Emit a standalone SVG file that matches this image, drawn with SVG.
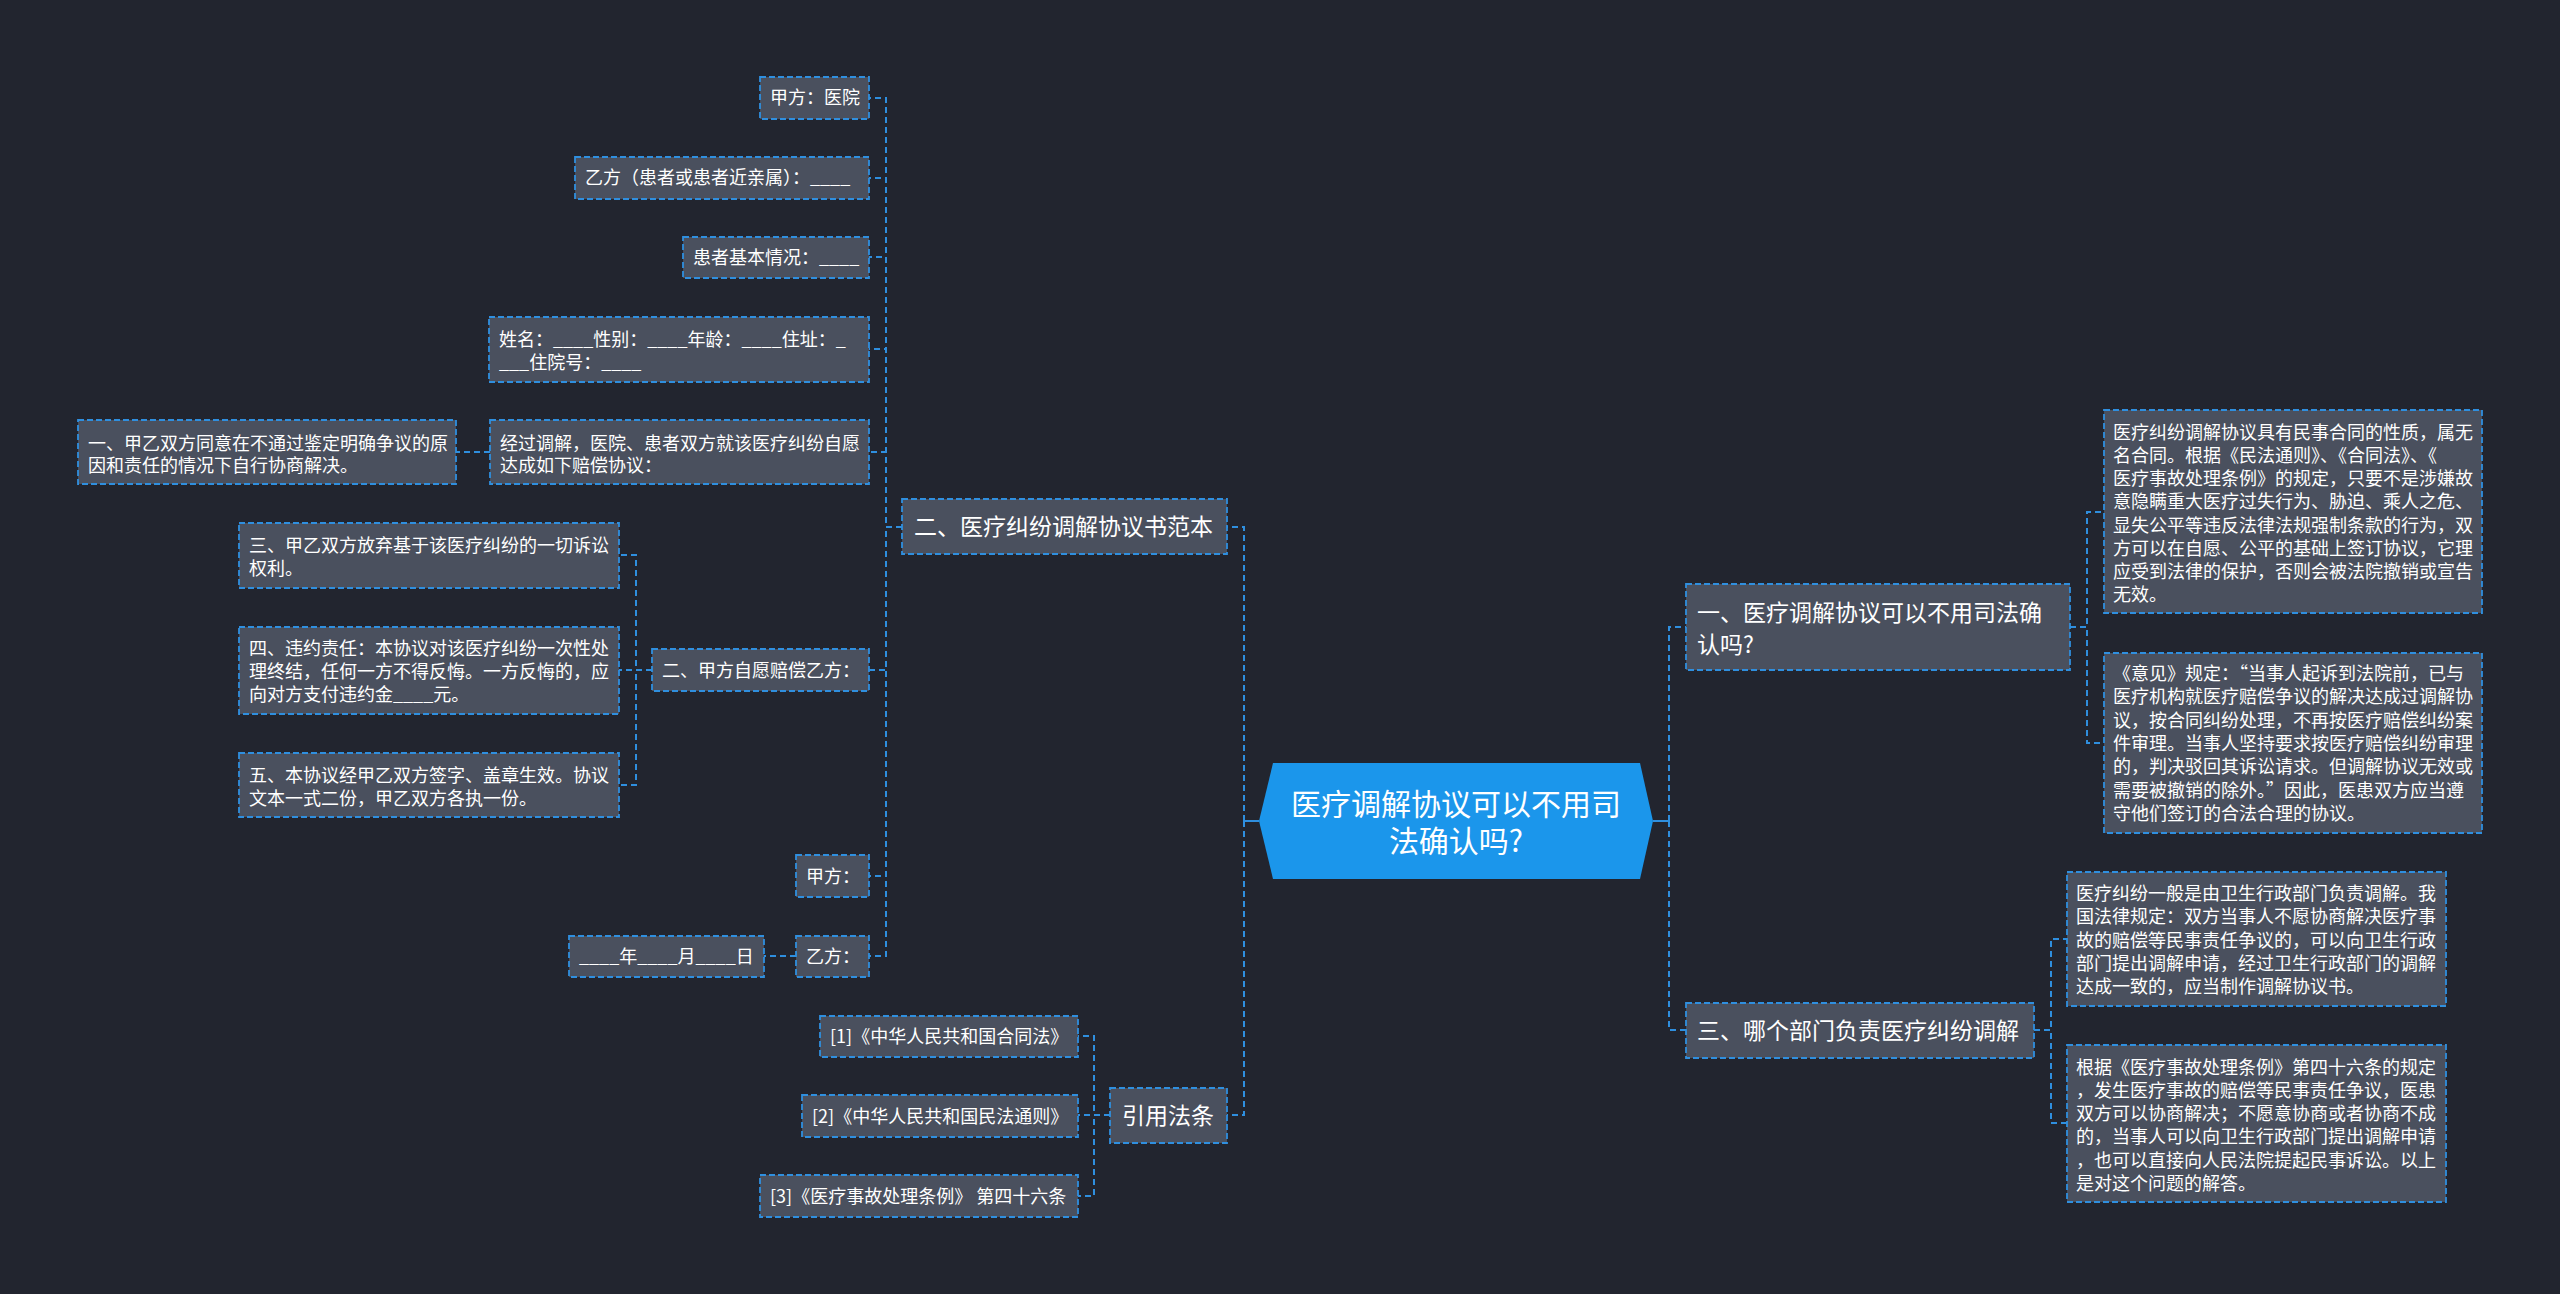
<svg xmlns="http://www.w3.org/2000/svg" width="2560" height="1294" viewBox="0 0 2560 1294">
<style>
.bg{fill:#22252f}
.box{fill:#4a505e;stroke:#2f8fdf;stroke-width:1.8;stroke-dasharray:6 3}
.t{font-family:"Noto Sans CJK SC","Noto Sans",sans-serif;fill:#ffffff;font-size:18px}
.t1{font-family:"Noto Sans CJK SC","Noto Sans",sans-serif;fill:#ffffff;font-size:23px}
.tc{font-family:"Noto Sans CJK SC","Noto Sans",sans-serif;fill:#ffffff;font-size:30px;text-anchor:middle}
.c{fill:none;stroke:#2f8fdf;stroke-width:2;stroke-dasharray:6 4}
.cs{fill:none;stroke:#2f8fdf;stroke-width:2}
</style>
<rect class="bg" x="0" y="0" width="2560" height="1294"/>
<g id="connectors">
<path class="cs" d="M1259 821H1244M1653 821H1669"/>
<path class="c" d="M1244 821V527H1227"/>
<path class="c" d="M1244 821V1115H1227"/>
<path class="c" d="M1669 821V627H1686"/>
<path class="c" d="M1669 821V1030H1686"/>
<path class="c" d="M902 527H886V98H869"/>
<path class="c" d="M902 527H886V178H869"/>
<path class="c" d="M902 527H886V257H869"/>
<path class="c" d="M902 527H886V349H869"/>
<path class="c" d="M902 527H886V452H869"/>
<path class="c" d="M902 527H886V670H869"/>
<path class="c" d="M902 527H886V876H869"/>
<path class="c" d="M902 527H886V956H869"/>
<path class="c" d="M490 452H456"/>
<path class="c" d="M652 670H636V555H619"/>
<path class="c" d="M652 670H619"/>
<path class="c" d="M652 670H636V785H619"/>
<path class="c" d="M796 956H764"/>
<path class="c" d="M1110 1115H1094V1036H1078"/>
<path class="c" d="M1110 1115H1078"/>
<path class="c" d="M1110 1115H1094V1196H1078"/>
<path class="c" d="M2070 627H2087V512H2104"/>
<path class="c" d="M2070 627H2087V743H2104"/>
<path class="c" d="M2034 1030H2051V939H2067"/>
<path class="c" d="M2034 1030H2051V1123H2067"/>
</g>
<g id="center">
<polygon points="1259,821 1273,763 1640,763 1653,821 1640,879 1273,879" fill="#1b96eb"/>
<text class="tc" x="1456" y="815">医疗调解协议可以不用司</text>
<text class="tc" x="1456" y="852">法确认吗?</text>
</g>
<g id="n-fanben">
<rect class="box" x="902" y="499" width="325" height="55"/>
<text class="t1" x="914" y="535">二、医疗纠纷调解协议书范本</text>
</g>
<g id="n-yinyong">
<rect class="box" x="1110" y="1088" width="117" height="55"/>
<text class="t1" x="1122" y="1124">引用法条</text>
</g>
<g id="n-q1">
<rect class="box" x="1686" y="584" width="384" height="86"/>
<text class="t1" x="1697" y="621">一、医疗调解协议可以不用司法确</text>
<text class="t1" x="1697" y="653">认吗?</text>
</g>
<g id="n-q3">
<rect class="box" x="1686" y="1003" width="348" height="55"/>
<text class="t1" x="1697" y="1039">三、哪个部门负责医疗纠纷调解</text>
</g>
<g id="n-jiafang">
<rect class="box" x="760" y="77" width="109" height="42"/>
<text class="t" x="770" y="104">甲方：医院</text>
</g>
<g id="n-yifang">
<rect class="box" x="575" y="157" width="294" height="42"/>
<text class="t" x="585" y="184">乙方（患者或患者近亲属）：____</text>
</g>
<g id="n-huanzhe">
<rect class="box" x="683" y="237" width="186" height="41"/>
<text class="t" x="693" y="264">患者基本情况：____</text>
</g>
<g id="n-xingming">
<rect class="box" x="489" y="317" width="380" height="65"/>
<text class="t" x="499" y="346">姓名：____性别：____年龄：____住址：_</text>
<text class="t" x="499" y="369">___住院号：____</text>
</g>
<g id="n-jingguo">
<rect class="box" x="490" y="420" width="379" height="64"/>
<text class="t" x="500" y="450">经过调解，医院、患者双方就该医疗纠纷自愿</text>
<text class="t" x="500" y="472">达成如下赔偿协议：</text>
</g>
<g id="n-yi">
<rect class="box" x="78" y="420" width="378" height="64"/>
<text class="t" x="88" y="450">一、甲乙双方同意在不通过鉴定明确争议的原</text>
<text class="t" x="88" y="472">因和责任的情况下自行协商解决。</text>
</g>
<g id="n-er">
<rect class="box" x="652" y="649" width="217" height="42"/>
<text class="t" x="662" y="677">二、甲方自愿赔偿乙方：</text>
</g>
<g id="n-san">
<rect class="box" x="239" y="523" width="380" height="65"/>
<text class="t" x="249" y="552">三、甲乙双方放弃基于该医疗纠纷的一切诉讼</text>
<text class="t" x="249" y="575">权利。</text>
</g>
<g id="n-si">
<rect class="box" x="239" y="627" width="380" height="87"/>
<text class="t" x="249" y="655">四、违约责任：本协议对该医疗纠纷一次性处</text>
<text class="t" x="249" y="678">理终结，任何一方不得反悔。一方反悔的，应</text>
<text class="t" x="249" y="701">向对方支付违约金____元。</text>
</g>
<g id="n-wu">
<rect class="box" x="239" y="753" width="380" height="64"/>
<text class="t" x="249" y="782">五、本协议经甲乙双方签字、盖章生效。协议</text>
<text class="t" x="249" y="805">文本一式二份，甲乙双方各执一份。</text>
</g>
<g id="n-jiafang2">
<rect class="box" x="796" y="855" width="73" height="42"/>
<text class="t" x="806" y="883">甲方：</text>
</g>
<g id="n-yifang2">
<rect class="box" x="796" y="936" width="73" height="41"/>
<text class="t" x="806" y="963">乙方：</text>
</g>
<g id="n-date">
<rect class="box" x="569" y="936" width="195" height="41"/>
<text class="t" x="579" y="963">____年____月____日</text>
</g>
<g id="n-ref1">
<rect class="box" x="820" y="1016" width="258" height="41"/>
<text class="t" x="830" y="1043">[1]《中华人民共和国合同法》</text>
</g>
<g id="n-ref2">
<rect class="box" x="802" y="1095" width="276" height="42"/>
<text class="t" x="812" y="1123">[2]《中华人民共和国民法通则》</text>
</g>
<g id="n-ref3">
<rect class="box" x="760" y="1175" width="318" height="42"/>
<text class="t" x="770" y="1203">[3]《医疗事故处理条例》 第四十六条</text>
</g>
<g id="n-a">
<rect class="box" x="2104" y="410" width="378" height="203"/>
<text class="t" x="2113" y="439">医疗纠纷调解协议具有民事合同的性质，属无</text>
<text class="t" x="2113" y="462">名合同。根据《民法通则》、《合同法》、《</text>
<text class="t" x="2113" y="485">医疗事故处理条例》的规定，只要不是涉嫌故</text>
<text class="t" x="2113" y="508">意隐瞒重大医疗过失行为、胁迫、乘人之危、</text>
<text class="t" x="2113" y="532">显失公平等违反法律法规强制条款的行为，双</text>
<text class="t" x="2113" y="555">方可以在自愿、公平的基础上签订协议，它理</text>
<text class="t" x="2113" y="578">应受到法律的保护，否则会被法院撤销或宣告</text>
<text class="t" x="2113" y="601">无效。</text>
</g>
<g id="n-b">
<rect class="box" x="2104" y="653" width="378" height="180"/>
<text class="t" x="2113" y="680">《意见》规定：“当事人起诉到法院前，已与</text>
<text class="t" x="2113" y="703">医疗机构就医疗赔偿争议的解决达成过调解协</text>
<text class="t" x="2113" y="727">议，按合同纠纷处理，不再按医疗赔偿纠纷案</text>
<text class="t" x="2113" y="750">件审理。当事人坚持要求按医疗赔偿纠纷审理</text>
<text class="t" x="2113" y="773">的，判决驳回其诉讼请求。但调解协议无效或</text>
<text class="t" x="2113" y="797">需要被撤销的除外。”因此，医患双方应当遵</text>
<text class="t" x="2113" y="820">守他们签订的合法合理的协议。</text>
</g>
<g id="n-c">
<rect class="box" x="2067" y="872" width="379" height="134"/>
<text class="t" x="2076" y="900">医疗纠纷一般是由卫生行政部门负责调解。我</text>
<text class="t" x="2076" y="923">国法律规定：双方当事人不愿协商解决医疗事</text>
<text class="t" x="2076" y="947">故的赔偿等民事责任争议的，可以向卫生行政</text>
<text class="t" x="2076" y="970">部门提出调解申请，经过卫生行政部门的调解</text>
<text class="t" x="2076" y="993">达成一致的，应当制作调解协议书。</text>
</g>
<g id="n-d">
<rect class="box" x="2067" y="1045" width="379" height="157"/>
<text class="t" x="2076" y="1074">根据《医疗事故处理条例》第四十六条的规定</text>
<text class="t" x="2076" y="1097">，发生医疗事故的赔偿等民事责任争议，医患</text>
<text class="t" x="2076" y="1120">双方可以协商解决；不愿意协商或者协商不成</text>
<text class="t" x="2076" y="1143">的，当事人可以向卫生行政部门提出调解申请</text>
<text class="t" x="2076" y="1167">，也可以直接向人民法院提起民事诉讼。以上</text>
<text class="t" x="2076" y="1190">是对这个问题的解答。</text>
</g>
</svg>
